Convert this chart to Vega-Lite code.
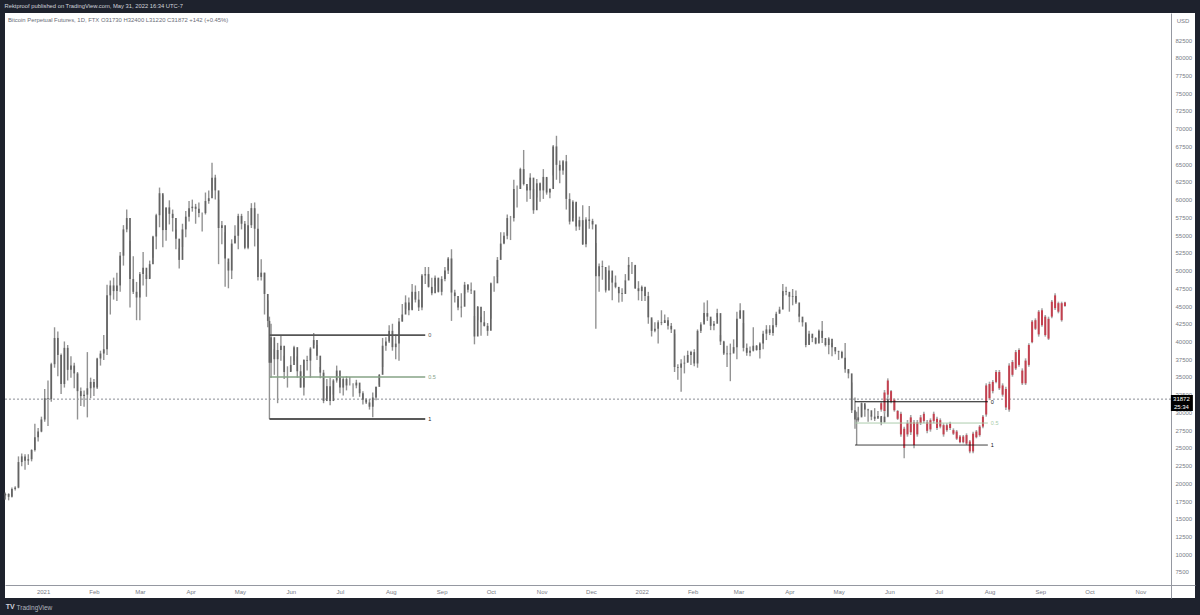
{
"$schema":"https://vega.github.io/schema/vega-lite/v6.json",
"width":1190,"height":585,
"autosize":"none",
"padding":{"left":5,"top":13,"right":5,"bottom":17},
"background":"#1e222d",
"title":{"text":"Rektproof published on TradingView.com, May 31, 2022 16:34 UTC-7","anchor":"start","orient":"top","offset":4,"fontSize":5.8,"fontWeight":"normal","color":"#d1d4dc","font":"Liberation Sans"},
"config":{"view":{"fill":"#ffffff","stroke":null},"font":"Liberation Sans","axis":{"labelOverlap":false}},
"datasets":{
"hist":[
{"d":"2020-12-09","o":18300,"h":18700,"l":17700,"c":18500},
{"d":"2020-12-11","o":18500,"h":18600,"l":17600,"c":18100},
{"d":"2020-12-13","o":18100,"h":19400,"l":18000,"c":19200},
{"d":"2020-12-15","o":19200,"h":19600,"l":19000,"c":19400},
{"d":"2020-12-17","o":19400,"h":23800,"l":19300,"c":23000},
{"d":"2020-12-19","o":23000,"h":24200,"l":22400,"c":23800},
{"d":"2020-12-21","o":23800,"h":24100,"l":21900,"c":23200},
{"d":"2020-12-23","o":23200,"h":24100,"l":22600,"c":23400},
{"d":"2020-12-25","o":23400,"h":24800,"l":23100,"c":24700},
{"d":"2020-12-27","o":24700,"h":28400,"l":24500,"c":26500},
{"d":"2020-12-29","o":26500,"h":27800,"l":25900,"c":27300},
{"d":"2020-12-31","o":27300,"h":29400,"l":27200,"c":29000},
{"d":"2021-01-02","o":29000,"h":33300,"l":28700,"c":32000},
{"d":"2021-01-04","o":32000,"h":34500,"l":28100,"c":31900},
{"d":"2021-01-06","o":31900,"h":37000,"l":31500,"c":36800},
{"d":"2021-01-08","o":36800,"h":42000,"l":36300,"c":40500},
{"d":"2021-01-10","o":40500,"h":41400,"l":35100,"c":38100},
{"d":"2021-01-12","o":38100,"h":38300,"l":32600,"c":34000},
{"d":"2021-01-14","o":34000,"h":40000,"l":33500,"c":39100},
{"d":"2021-01-16","o":39100,"h":39500,"l":34500,"c":36000},
{"d":"2021-01-18","o":36000,"h":37900,"l":34900,"c":36600},
{"d":"2021-01-20","o":36600,"h":37000,"l":33400,"c":35500},
{"d":"2021-01-22","o":35500,"h":35700,"l":29000,"c":33000},
{"d":"2021-01-24","o":33000,"h":33500,"l":30900,"c":32300},
{"d":"2021-01-26","o":32300,"h":33100,"l":30800,"c":32500},
{"d":"2021-01-28","o":32500,"h":38500,"l":29300,"c":33400},
{"d":"2021-01-30","o":33400,"h":34900,"l":32000,"c":34300},
{"d":"2021-02-01","o":34300,"h":34700,"l":32300,"c":33500},
{"d":"2021-02-03","o":33500,"h":37700,"l":33300,"c":37600},
{"d":"2021-02-05","o":37600,"h":38700,"l":36600,"c":38300},
{"d":"2021-02-07","o":38300,"h":40900,"l":37400,"c":38900},
{"d":"2021-02-09","o":38900,"h":48000,"l":38100,"c":46500},
{"d":"2021-02-11","o":46500,"h":48600,"l":43800,"c":47900},
{"d":"2021-02-13","o":47900,"h":49000,"l":45900,"c":47100},
{"d":"2021-02-15","o":47100,"h":49700,"l":45700,"c":47900},
{"d":"2021-02-17","o":47900,"h":52600,"l":47000,"c":52100},
{"d":"2021-02-19","o":52100,"h":56400,"l":50700,"c":55800},
{"d":"2021-02-21","o":55800,"h":58600,"l":55400,"c":57400},
{"d":"2021-02-23","o":57400,"h":54200,"l":44800,"c":48800},
{"d":"2021-02-25","o":48800,"h":52000,"l":46700,"c":47000},
{"d":"2021-02-27","o":47000,"h":48400,"l":43000,"c":46200},
{"d":"2021-03-01","o":46200,"h":49800,"l":43000,"c":49500},
{"d":"2021-03-03","o":49500,"h":52600,"l":47900,"c":50400},
{"d":"2021-03-05","o":50400,"h":49400,"l":46300,"c":48800},
{"d":"2021-03-07","o":48800,"h":51400,"l":48900,"c":50900},
{"d":"2021-03-09","o":50900,"h":54900,"l":51800,"c":54800},
{"d":"2021-03-11","o":54800,"h":58000,"l":53000,"c":57800},
{"d":"2021-03-13","o":57800,"h":61700,"l":56100,"c":60900},
{"d":"2021-03-15","o":60900,"h":60600,"l":53300,"c":55700},
{"d":"2021-03-17","o":55700,"h":58900,"l":54200,"c":58900},
{"d":"2021-03-19","o":58900,"h":59900,"l":56500,"c":58000},
{"d":"2021-03-21","o":58000,"h":58600,"l":55500,"c":57400},
{"d":"2021-03-23","o":57400,"h":55800,"l":53000,"c":54500},
{"d":"2021-03-25","o":54500,"h":53200,"l":50300,"c":51500},
{"d":"2021-03-27","o":51500,"h":56600,"l":53300,"c":55800},
{"d":"2021-03-29","o":55800,"h":58400,"l":54700,"c":57600},
{"d":"2021-03-31","o":57600,"h":59800,"l":56900,"c":58800},
{"d":"2021-04-02","o":58800,"h":60000,"l":58300,"c":59000},
{"d":"2021-04-04","o":59000,"h":59400,"l":56600,"c":58700},
{"d":"2021-04-06","o":58700,"h":59600,"l":57500,"c":58100},
{"d":"2021-04-08","o":58100,"h":58200,"l":55500,"c":58100},
{"d":"2021-04-10","o":58100,"h":61000,"l":57900,"c":59800},
{"d":"2021-04-12","o":59800,"h":61300,"l":59400,"c":60200},
{"d":"2021-04-14","o":60200,"h":65200,"l":61300,"c":63100},
{"d":"2021-04-16","o":63100,"h":63500,"l":60000,"c":61300},
{"d":"2021-04-18","o":61300,"h":60000,"l":50900,"c":56000},
{"d":"2021-04-20","o":56000,"h":57000,"l":53700,"c":56400},
{"d":"2021-04-22","o":56400,"h":55400,"l":47700,"c":51700},
{"d":"2021-04-24","o":51700,"h":51200,"l":47500,"c":50000},
{"d":"2021-04-26","o":50000,"h":54400,"l":48800,"c":53800},
{"d":"2021-04-28","o":53800,"h":56400,"l":53900,"c":54900},
{"d":"2021-04-30","o":54900,"h":58000,"l":53000,"c":57700},
{"d":"2021-05-02","o":57700,"h":58000,"l":55800,"c":56600},
{"d":"2021-05-04","o":56600,"h":57000,"l":53000,"c":53200},
{"d":"2021-05-06","o":53200,"h":58400,"l":53000,"c":56400},
{"d":"2021-05-08","o":56400,"h":59500,"l":56000,"c":58800},
{"d":"2021-05-10","o":58800,"h":59600,"l":53400,"c":55900},
{"d":"2021-05-12","o":55900,"h":58000,"l":48600,"c":49100},
{"d":"2021-05-14","o":49100,"h":51600,"l":48600,"c":49700},
{"d":"2021-05-16","o":49700,"h":49700,"l":43800,"c":46700},
{"d":"2021-05-18","o":46700,"h":45800,"l":42000,"c":42900},
{"d":"2021-05-19","o":42900,"h":43500,"l":29100,"c":37000},
{"d":"2021-05-20","o":37000,"h":42500,"l":34900,"c":40600},
{"d":"2021-05-22","o":40600,"h":38900,"l":35300,"c":37500},
{"d":"2021-05-24","o":37500,"h":39800,"l":31300,"c":38800},
{"d":"2021-05-26","o":38800,"h":40900,"l":37300,"c":39400},
{"d":"2021-05-28","o":39400,"h":38000,"l":34700,"c":35700},
{"d":"2021-05-30","o":35700,"h":36500,"l":33500,"c":35700},
{"d":"2021-06-01","o":35700,"h":37900,"l":35800,"c":36700},
{"d":"2021-06-03","o":36700,"h":39400,"l":37200,"c":39200},
{"d":"2021-06-05","o":39200,"h":37900,"l":34900,"c":35800},
{"d":"2021-06-07","o":35800,"h":36700,"l":33500,"c":33500},
{"d":"2021-06-09","o":33500,"h":37500,"l":32400,"c":37400},
{"d":"2021-06-11","o":37400,"h":38000,"l":35900,"c":37300},
{"d":"2021-06-13","o":37300,"h":39200,"l":34900,"c":39000},
{"d":"2021-06-15","o":39000,"h":41200,"l":39500,"c":40200},
{"d":"2021-06-17","o":40200,"h":39500,"l":37400,"c":38000},
{"d":"2021-06-19","o":38000,"h":36400,"l":34800,"c":35600},
{"d":"2021-06-21","o":35600,"h":36000,"l":31300,"c":31600},
{"d":"2021-06-23","o":31600,"h":34700,"l":31900,"c":33700},
{"d":"2021-06-25","o":33700,"h":34900,"l":31000,"c":31600},
{"d":"2021-06-27","o":31600,"h":34700,"l":32500,"c":34500},
{"d":"2021-06-29","o":34500,"h":36600,"l":34200,"c":35900},
{"d":"2021-07-01","o":35900,"h":35000,"l":32700,"c":33500},
{"d":"2021-07-03","o":33500,"h":35000,"l":32400,"c":34700},
{"d":"2021-07-05","o":34700,"h":35100,"l":33100,"c":33800},
{"d":"2021-07-07","o":33800,"h":35000,"l":33800,"c":33800},
{"d":"2021-07-09","o":33800,"h":34100,"l":32200,"c":33800},
{"d":"2021-07-11","o":33800,"h":34600,"l":33400,"c":34200},
{"d":"2021-07-13","o":34200,"h":33300,"l":32200,"c":32700},
{"d":"2021-07-15","o":32700,"h":33000,"l":31100,"c":31800},
{"d":"2021-07-17","o":31800,"h":32000,"l":31200,"c":31400},
{"d":"2021-07-19","o":31400,"h":31900,"l":30400,"c":30800},
{"d":"2021-07-21","o":30800,"h":32800,"l":29300,"c":32100},
{"d":"2021-07-23","o":32100,"h":33600,"l":31700,"c":33600},
{"d":"2021-07-25","o":33600,"h":35400,"l":33900,"c":35300},
{"d":"2021-07-27","o":35300,"h":40500,"l":36400,"c":39400},
{"d":"2021-07-29","o":39400,"h":40600,"l":38700,"c":40000},
{"d":"2021-07-31","o":40000,"h":42300,"l":39800,"c":41500},
{"d":"2021-08-02","o":41500,"h":42500,"l":38700,"c":39200},
{"d":"2021-08-04","o":39200,"h":41000,"l":37500,"c":39700},
{"d":"2021-08-06","o":39700,"h":43300,"l":37300,"c":42800},
{"d":"2021-08-08","o":42800,"h":45300,"l":42800,"c":43800},
{"d":"2021-08-10","o":43800,"h":46500,"l":44600,"c":45500},
{"d":"2021-08-12","o":45500,"h":46200,"l":43700,"c":44400},
{"d":"2021-08-14","o":44400,"h":48100,"l":44600,"c":47000},
{"d":"2021-08-16","o":47000,"h":47900,"l":45500,"c":45900},
{"d":"2021-08-18","o":45900,"h":47100,"l":44300,"c":44800},
{"d":"2021-08-20","o":44800,"h":49500,"l":44400,"c":49300},
{"d":"2021-08-22","o":49300,"h":50500,"l":48100,"c":49500},
{"d":"2021-08-24","o":49500,"h":50500,"l":47600,"c":47700},
{"d":"2021-08-26","o":47700,"h":49000,"l":46500,"c":46800},
{"d":"2021-08-28","o":46800,"h":49300,"l":47800,"c":49000},
{"d":"2021-08-30","o":49000,"h":48900,"l":46900,"c":47000},
{"d":"2021-09-01","o":47000,"h":49200,"l":46500,"c":48800},
{"d":"2021-09-03","o":48800,"h":50500,"l":48500,"c":50000},
{"d":"2021-09-05","o":50000,"h":51900,"l":49500,"c":51700},
{"d":"2021-09-07","o":51700,"h":53000,"l":42900,"c":46900},
{"d":"2021-09-09","o":46900,"h":47300,"l":45500,"c":46400},
{"d":"2021-09-11","o":46400,"h":46000,"l":44400,"c":44800},
{"d":"2021-09-13","o":44800,"h":46800,"l":43400,"c":44900},
{"d":"2021-09-15","o":44900,"h":48400,"l":46700,"c":48000},
{"d":"2021-09-17","o":48000,"h":48100,"l":46900,"c":47300},
{"d":"2021-09-19","o":47300,"h":48300,"l":46700,"c":47200},
{"d":"2021-09-21","o":47200,"h":43600,"l":39600,"c":40700},
{"d":"2021-09-23","o":40700,"h":45000,"l":43000,"c":44900},
{"d":"2021-09-25","o":44900,"h":43500,"l":40800,"c":42700},
{"d":"2021-09-27","o":42700,"h":44300,"l":42100,"c":42200},
{"d":"2021-09-29","o":42200,"h":42600,"l":40800,"c":41500},
{"d":"2021-10-01","o":41500,"h":48300,"l":43200,"c":48200},
{"d":"2021-10-03","o":48200,"h":49200,"l":47000,"c":48200},
{"d":"2021-10-05","o":48200,"h":51900,"l":49100,"c":51500},
{"d":"2021-10-07","o":51500,"h":55400,"l":52900,"c":53800},
{"d":"2021-10-09","o":53800,"h":55400,"l":53700,"c":54900},
{"d":"2021-10-11","o":54900,"h":57900,"l":54400,"c":57400},
{"d":"2021-10-13","o":57400,"h":57700,"l":54300,"c":57400},
{"d":"2021-10-15","o":57400,"h":62800,"l":56900,"c":61500},
{"d":"2021-10-17","o":61500,"h":62000,"l":58900,"c":61500},
{"d":"2021-10-19","o":61500,"h":64500,"l":61500,"c":64300},
{"d":"2021-10-21","o":64300,"h":67000,"l":62000,"c":62200},
{"d":"2021-10-23","o":62200,"h":61800,"l":59700,"c":61300},
{"d":"2021-10-25","o":61300,"h":63700,"l":60100,"c":63100},
{"d":"2021-10-27","o":63100,"h":61500,"l":58000,"c":58500},
{"d":"2021-10-29","o":58500,"h":62900,"l":60300,"c":62300},
{"d":"2021-10-31","o":62300,"h":62400,"l":59700,"c":61300},
{"d":"2021-11-02","o":61300,"h":64300,"l":60100,"c":63200},
{"d":"2021-11-04","o":63200,"h":63100,"l":60700,"c":61000},
{"d":"2021-11-06","o":61000,"h":61600,"l":60200,"c":61500},
{"d":"2021-11-08","o":61500,"h":67700,"l":63400,"c":67500},
{"d":"2021-11-10","o":67500,"h":69000,"l":62800,"c":64900},
{"d":"2021-11-12","o":64900,"h":65500,"l":62300,"c":64100},
{"d":"2021-11-14","o":64100,"h":65600,"l":63500,"c":65400},
{"d":"2021-11-16","o":65400,"h":66300,"l":58600,"c":60100},
{"d":"2021-11-18","o":60100,"h":60900,"l":56500,"c":56900},
{"d":"2021-11-20","o":56900,"h":59900,"l":57400,"c":59700},
{"d":"2021-11-22","o":59700,"h":59500,"l":55600,"c":56200},
{"d":"2021-11-24","o":56200,"h":57600,"l":55700,"c":57100},
{"d":"2021-11-26","o":57100,"h":59200,"l":53600,"c":53700},
{"d":"2021-11-28","o":53700,"h":57500,"l":53300,"c":57200},
{"d":"2021-11-30","o":57200,"h":59100,"l":55900,"c":57000},
{"d":"2021-12-02","o":57000,"h":57300,"l":55800,"c":56500},
{"d":"2021-12-04","o":56500,"h":53900,"l":41800,"c":49200},
{"d":"2021-12-06","o":49200,"h":51000,"l":47000,"c":50600},
{"d":"2021-12-08","o":50600,"h":51400,"l":48700,"c":50500},
{"d":"2021-12-10","o":50500,"h":50100,"l":46900,"c":47200},
{"d":"2021-12-12","o":47200,"h":50700,"l":48700,"c":50000},
{"d":"2021-12-14","o":50000,"h":49000,"l":45800,"c":48300},
{"d":"2021-12-16","o":48300,"h":49300,"l":47500,"c":47700},
{"d":"2021-12-18","o":47700,"h":47300,"l":45500,"c":46800},
{"d":"2021-12-20","o":46800,"h":47500,"l":45600,"c":46700},
{"d":"2021-12-22","o":46700,"h":49500,"l":48500,"c":48600},
{"d":"2021-12-24","o":48600,"h":51900,"l":50500,"c":50800},
{"d":"2021-12-26","o":50800,"h":51200,"l":49500,"c":50800},
{"d":"2021-12-28","o":50800,"h":50700,"l":47400,"c":47500},
{"d":"2021-12-30","o":47500,"h":48500,"l":45800,"c":47100},
{"d":"2022-01-01","o":47100,"h":47900,"l":45700,"c":47700},
{"d":"2022-01-03","o":47700,"h":47500,"l":45700,"c":46400},
{"d":"2022-01-05","o":46400,"h":47000,"l":42500,"c":43400},
{"d":"2022-01-07","o":43400,"h":43100,"l":40700,"c":41500},
{"d":"2022-01-09","o":41500,"h":42700,"l":41300,"c":41800},
{"d":"2022-01-11","o":41800,"h":43000,"l":39700,"c":42700},
{"d":"2022-01-13","o":42700,"h":44400,"l":42300,"c":42600},
{"d":"2022-01-15","o":42600,"h":43800,"l":42600,"c":43000},
{"d":"2022-01-17","o":43000,"h":43400,"l":41700,"c":42200},
{"d":"2022-01-19","o":42200,"h":42600,"l":41200,"c":41700},
{"d":"2022-01-21","o":41700,"h":41100,"l":35700,"c":36400},
{"d":"2022-01-23","o":36400,"h":36800,"l":34600,"c":36300},
{"d":"2022-01-25","o":36300,"h":37500,"l":32900,"c":36900},
{"d":"2022-01-27","o":36900,"h":38000,"l":35500,"c":37000},
{"d":"2022-01-29","o":37000,"h":38700,"l":37100,"c":38100},
{"d":"2022-01-31","o":38100,"h":38700,"l":36700,"c":38500},
{"d":"2022-02-02","o":38500,"h":38900,"l":36500,"c":36900},
{"d":"2022-02-04","o":36900,"h":41700,"l":36300,"c":41500},
{"d":"2022-02-06","o":41500,"h":42700,"l":41200,"c":42400},
{"d":"2022-02-08","o":42400,"h":45500,"l":42700,"c":44000},
{"d":"2022-02-10","o":44000,"h":45800,"l":42900,"c":43500},
{"d":"2022-02-12","o":43500,"h":43200,"l":41600,"c":42200},
{"d":"2022-02-14","o":42200,"h":42900,"l":41600,"c":42500},
{"d":"2022-02-16","o":42500,"h":44600,"l":43400,"c":44000},
{"d":"2022-02-18","o":44000,"h":40900,"l":39500,"c":40000},
{"d":"2022-02-20","o":40000,"h":40100,"l":38100,"c":38300},
{"d":"2022-02-22","o":38300,"h":39400,"l":36400,"c":38200},
{"d":"2022-02-24","o":38200,"h":39700,"l":34400,"c":38300},
{"d":"2022-02-26","o":38300,"h":40300,"l":38600,"c":39200},
{"d":"2022-02-28","o":39200,"h":44200,"l":37500,"c":43200},
{"d":"2022-03-02","o":43200,"h":45400,"l":43300,"c":44400},
{"d":"2022-03-04","o":44400,"h":42600,"l":38600,"c":39100},
{"d":"2022-03-06","o":39100,"h":39700,"l":38000,"c":38400},
{"d":"2022-03-08","o":38400,"h":39300,"l":37900,"c":38700},
{"d":"2022-03-10","o":38700,"h":42000,"l":38600,"c":39400},
{"d":"2022-03-12","o":39400,"h":39500,"l":38700,"c":38800},
{"d":"2022-03-14","o":38800,"h":39900,"l":37600,"c":39700},
{"d":"2022-03-16","o":39700,"h":41500,"l":38900,"c":41100},
{"d":"2022-03-18","o":41100,"h":42300,"l":40200,"c":41700},
{"d":"2022-03-20","o":41700,"h":42300,"l":40900,"c":41200},
{"d":"2022-03-22","o":41200,"h":43300,"l":40800,"c":42300},
{"d":"2022-03-24","o":42300,"h":44200,"l":42000,"c":43900},
{"d":"2022-03-26","o":43900,"h":44900,"l":44100,"c":44500},
{"d":"2022-03-28","o":44500,"h":48100,"l":46400,"c":47100},
{"d":"2022-03-30","o":47100,"h":47700,"l":46500,"c":47000},
{"d":"2022-04-01","o":47000,"h":46600,"l":44200,"c":46300},
{"d":"2022-04-03","o":46300,"h":47400,"l":45100,"c":46400},
{"d":"2022-04-05","o":46400,"h":47200,"l":45300,"c":45500},
{"d":"2022-04-07","o":45500,"h":43900,"l":42700,"c":43500},
{"d":"2022-04-09","o":43500,"h":43000,"l":42100,"c":42700},
{"d":"2022-04-11","o":42700,"h":42400,"l":39200,"c":39500},
{"d":"2022-04-13","o":39500,"h":41500,"l":39600,"c":41100},
{"d":"2022-04-15","o":41100,"h":40800,"l":39900,"c":40500},
{"d":"2022-04-17","o":40500,"h":40600,"l":39600,"c":39700},
{"d":"2022-04-19","o":39700,"h":41700,"l":40500,"c":41500},
{"d":"2022-04-21","o":41500,"h":42900,"l":39800,"c":40500},
{"d":"2022-04-23","o":40500,"h":39900,"l":39300,"c":39500},
{"d":"2022-04-25","o":39500,"h":40600,"l":38200,"c":40400},
{"d":"2022-04-27","o":40400,"h":39800,"l":37900,"c":39200},
{"d":"2022-04-29","o":39200,"h":39200,"l":38200,"c":38600},
{"d":"2022-05-01","o":38600,"h":38700,"l":37400,"c":38500},
{"d":"2022-05-03","o":38500,"h":38700,"l":37600,"c":37700},
{"d":"2022-05-05","o":37700,"h":39800,"l":35600,"c":36100},
{"d":"2022-05-07","o":36100,"h":36100,"l":34800,"c":35500},
{"d":"2022-05-09","o":35500,"h":34200,"l":29900,"c":30300},
{"d":"2022-05-11","o":30300,"h":32100,"l":27700,"c":29000},
{"d":"2022-05-12","o":29000,"h":30100,"l":25400,"c":28900},
{"d":"2022-05-13","o":28900,"h":30800,"l":28700,"c":29300},
{"d":"2022-05-15","o":29300,"h":31400,"l":29500,"c":31300},
{"d":"2022-05-17","o":31300,"h":31000,"l":29400,"c":30400},
{"d":"2022-05-19","o":30400,"h":30500,"l":28700,"c":30300},
{"d":"2022-05-21","o":30300,"h":29600,"l":28900,"c":29400},
{"d":"2022-05-23","o":29400,"h":30600,"l":28800,"c":29100},
{"d":"2022-05-25","o":29100,"h":30200,"l":29300,"c":29500},
{"d":"2022-05-27","o":29500,"h":29300,"l":28200,"c":28600},
{"d":"2022-05-29","o":28600,"h":30400,"l":28600,"c":29400},
{"d":"2022-05-31","o":29400,"h":32400,"l":29300,"c":31872}
],
"proj":[
{"d":"2022-05-27","o":30400,"h":31512,"l":30102,"c":31300},
{"d":"2022-05-29","o":30200,"h":33157,"l":29867,"c":32800},
{"d":"2022-05-31","o":32500,"h":34802,"l":32217,"c":34500},
{"d":"2022-06-02","o":33000,"h":33157,"l":31277,"c":31500},
{"d":"2022-06-04","o":31800,"h":31982,"l":30102,"c":30300},
{"d":"2022-06-06","o":30200,"h":30337,"l":28927,"c":29100},
{"d":"2022-06-08","o":29800,"h":30102,"l":26577,"c":26900},
{"d":"2022-06-10","o":27700,"h":27987,"l":23522,"c":25000},
{"d":"2022-06-12","o":26900,"h":28927,"l":26577,"c":28500},
{"d":"2022-06-14","o":29300,"h":29632,"l":26812,"c":27200},
{"d":"2022-06-16","o":28600,"h":28927,"l":24932,"c":25400},
{"d":"2022-06-18","o":26900,"h":28927,"l":26577,"c":28600},
{"d":"2022-06-20","o":28500,"h":29632,"l":28222,"c":29300},
{"d":"2022-06-22","o":29800,"h":30102,"l":28457,"c":28800},
{"d":"2022-06-24","o":28600,"h":28927,"l":27047,"c":27400},
{"d":"2022-06-26","o":27600,"h":29162,"l":27282,"c":28900},
{"d":"2022-06-28","o":29800,"h":30102,"l":28457,"c":28800},
{"d":"2022-06-30","o":29100,"h":29397,"l":27517,"c":27800},
{"d":"2022-07-02","o":28900,"h":29162,"l":27752,"c":28000},
{"d":"2022-07-04","o":28200,"h":28457,"l":26577,"c":26900},
{"d":"2022-07-06","o":27500,"h":28457,"l":27282,"c":28200},
{"d":"2022-07-08","o":27800,"h":28692,"l":27517,"c":28400},
{"d":"2022-07-10","o":27500,"h":27752,"l":26812,"c":27000},
{"d":"2022-07-12","o":27300,"h":27517,"l":26107,"c":26300},
{"d":"2022-07-14","o":26600,"h":26812,"l":25637,"c":25800},
{"d":"2022-07-16","o":25800,"h":26812,"l":25637,"c":26600},
{"d":"2022-07-18","o":26800,"h":27047,"l":25402,"c":25600},
{"d":"2022-07-20","o":25900,"h":26107,"l":24227,"c":24500},
{"d":"2022-07-22","o":24500,"h":27282,"l":24227,"c":27000},
{"d":"2022-07-24","o":26500,"h":27517,"l":26342,"c":27300},
{"d":"2022-07-26","o":26800,"h":28222,"l":26577,"c":28000},
{"d":"2022-07-28","o":28000,"h":29632,"l":27752,"c":29400},
{"d":"2022-07-30","o":29700,"h":34097,"l":29397,"c":33800},
{"d":"2022-08-01","o":32000,"h":34332,"l":31747,"c":34000},
{"d":"2022-08-03","o":33000,"h":34567,"l":32687,"c":34300},
{"d":"2022-08-05","o":34300,"h":35977,"l":34097,"c":35700},
{"d":"2022-08-07","o":35700,"h":35977,"l":33157,"c":33400},
{"d":"2022-08-09","o":33800,"h":34097,"l":32217,"c":32500},
{"d":"2022-08-11","o":33300,"h":33627,"l":30337,"c":30700},
{"d":"2022-08-13","o":30400,"h":36917,"l":30102,"c":36600},
{"d":"2022-08-15","o":35300,"h":37387,"l":35037,"c":37100},
{"d":"2022-08-17","o":36200,"h":38797,"l":35977,"c":38500},
{"d":"2022-08-19","o":38800,"h":39032,"l":36447,"c":36700},
{"d":"2022-08-21","o":35900,"h":36212,"l":33862,"c":34100},
{"d":"2022-08-23","o":34100,"h":37622,"l":33862,"c":37300},
{"d":"2022-08-25","o":36700,"h":39737,"l":36447,"c":39500},
{"d":"2022-08-27","o":39900,"h":43027,"l":39737,"c":42800},
{"d":"2022-08-29","o":41800,"h":43262,"l":41617,"c":43000},
{"d":"2022-08-31","o":44200,"h":44437,"l":40677,"c":41000},
{"d":"2022-09-02","o":42300,"h":44672,"l":42087,"c":44400},
{"d":"2022-09-04","o":43500,"h":43732,"l":40677,"c":40900},
{"d":"2022-09-06","o":40400,"h":43497,"l":40207,"c":43200},
{"d":"2022-09-08","o":43500,"h":45847,"l":43262,"c":45600},
{"d":"2022-09-10","o":46500,"h":46787,"l":44437,"c":44700},
{"d":"2022-09-12","o":45400,"h":45612,"l":43967,"c":44200},
{"d":"2022-09-14","o":45400,"h":45612,"l":42792,"c":43000},
{"d":"2022-09-16","o":45000,"h":45612,"l":44907,"c":45500}
],
"levels":[
{"start":"2021-05-19","end":"2021-08-22","price":40900,"line":"first 0","label":"0"},
{"start":"2021-05-19","end":"2021-08-22","price":35000,"line":"first 0.5","label":"0.5"},
{"start":"2021-05-19","end":"2021-08-22","price":29070,"line":"first 1","label":"1"},
{"start":"2022-05-11","end":"2022-07-31","price":31510,"line":"second 0","label":"0"},
{"start":"2022-05-11","end":"2022-07-31","price":28500,"line":"second 0.5","label":"0.5"},
{"start":"2022-05-11","end":"2022-07-31","price":25400,"line":"second 1","label":"1"}
],
"last":[{"start":"2020-12-08T19:00:00Z","end":"2022-11-19T14:00:00Z","price":31872}],
"box":[{"start":"2022-11-19T14:00:00Z","end":"2022-12-03T00:00:00Z","top":32454,"bottom":30200}],
"boxText":[
{"d":"2022-11-26","price":31900,"t":"31872"},
{"d":"2022-11-26","price":30800,"t":"25:34"}
]
},
"layer":[
{"data":{"name":"last"},"mark":{"type":"rule","stroke":"#8a8d94","strokeWidth":1,"strokeDash":[2,2]},
 "encoding":{"x":{"field":"start","type":"temporal","scale":{"type":"utc","domain":["2020-12-08T19:00:00Z","2022-12-04T07:00:00Z"]},
   "axis":{"title":"TradingView","titleAnchor":"start","titleAlign":"left","titleBaseline":"middle","titleX":11,"titleY":22,"titleFontSize":6.5,"titleFontWeight":"normal","titleColor":"#b2b5be","orient":"bottom","offset":-13,"domainColor":"#9598a1","domainWidth":1,"ticks":false,"grid":false,"labelFontSize":6,"labelColor":"#787b86","labelPadding":3,"tickCount":{"interval":"month","step":1},"labelOverlap":false,"labelFlush":false,"labelExpr":"utcyear(datum.value)==2022&&utcmonth(datum.value)==11?'':utcmonth(datum.value)==0?utcFormat(datum.value,'%Y'):utcFormat(datum.value,'%b')"}},
  "x2":{"field":"end"},
  "y":{"field":"price","type":"quantitative","scale":{"domain":[3834,86310],"nice":false,"zero":false},
   "axis":{"title":null,"orient":"right","offset":-24,"domainColor":"#9598a1","domainWidth":1,"ticks":false,"grid":false,"labelFontSize":6,"labelColor":"#787b86","labelPadding":4,"labelOverlap":false,"labelFlush":false,"format":"d","tickCount":40,"values":[7500,10000,12500,15000,17500,20000,22500,25000,27500,30000,32500,35000,37500,40000,42500,45000,47500,50000,52500,55000,57500,60000,62500,65000,67500,70000,72500,75000,77500,80000,82500]}}}},
{"data":{"name":"hist"},"mark":{"type":"rule","stroke":"#929292","strokeWidth":1.4},
 "encoding":{"x":{"field":"d","type":"temporal"},"y":{"field":"l","type":"quantitative"},"y2":{"field":"h"}}},
{"data":{"name":"hist"},"mark":{"type":"rule","stroke":"#636363","strokeWidth":1.7},
 "encoding":{"x":{"field":"d","type":"temporal"},"y":{"field":"o","type":"quantitative"},"y2":{"field":"c"}}},
{"data":{"name":"proj"},"mark":{"type":"rule","stroke":"#a8a8a8","strokeWidth":1.6},
 "encoding":{"x":{"field":"d","type":"temporal"},"y":{"field":"l","type":"quantitative"},"y2":{"field":"h"}}},
{"data":{"name":"proj"},"mark":{"type":"rule","stroke":"#c4404f","strokeWidth":2},
 "encoding":{"x":{"field":"d","type":"temporal"},"y":{"field":"o","type":"quantitative"},"y2":{"field":"c"}}},
{"data":{"name":"levels"},"mark":{"type":"rule"},
 "encoding":{"x":{"field":"start","type":"temporal"},"x2":{"field":"end"},"y":{"field":"price","type":"quantitative"},
  "color":{"field":"line","type":"nominal","legend":null,"scale":{"domain":["first 0","first 0.5","first 1","second 0","second 0.5","second 1"],"range":["#555555","#86a386","#222222","#111111","#a9cba9","#111111"]}},
  "strokeWidth":{"field":"line","type":"nominal","legend":null,"scale":{"domain":["first 0","first 0.5","first 1","second 0","second 0.5","second 1"],"range":[1.6,0.8,1.6,1.6,1.8,1.6]}}}},
{"data":{"name":"levels"},"mark":{"type":"text","align":"left","baseline":"middle","dx":3,"fontSize":5.5},
 "encoding":{"x":{"field":"end","type":"temporal"},"y":{"field":"price","type":"quantitative"},"text":{"field":"label"},
  "color":{"field":"line","type":"nominal","legend":null}}},
{"data":{"name":"box"},"mark":{"type":"rect","fill":"#000000"},
 "encoding":{"x":{"field":"start","type":"temporal"},"x2":{"field":"end"},"y":{"field":"top","type":"quantitative"},"y2":{"field":"bottom"}}},
{"data":{"name":"boxText"},"mark":{"type":"text","align":"center","baseline":"middle","fontSize":6,"color":"#ffffff"},
 "encoding":{"x":{"field":"d","type":"temporal"},"y":{"field":"price","type":"quantitative"},"text":{"field":"t"}}},
{"data":{"values":[{"d":"2020-12-10T14:00:00Z","price":85323,"t":"Bitcoin Perpetual Futures, 1D, FTX  O31730  H32400  L31220  C31872  +142 (+0.45%)"}]},"mark":{"type":"text","align":"left","baseline":"middle","fontSize":5.9,"color":"#6a6d78"},
 "encoding":{"x":{"field":"d","type":"temporal"},"y":{"field":"price","type":"quantitative"},"text":{"field":"t"}}},
{"data":{"values":[{"d":"2022-11-27","price":85180,"t":"USD"}]},"mark":{"type":"text","align":"center","baseline":"middle","fontSize":6,"color":"#787b86"},
 "encoding":{"x":{"field":"d","type":"temporal"},"y":{"field":"price","type":"quantitative"},"text":{"field":"t"}}},
{"data":{"values":[{"d":"2020-12-12","price":2566,"t":"TV"}]},"mark":{"type":"text","align":"center","baseline":"middle","fontSize":7,"fontWeight":"bold","color":"#d1d4dc"},
 "encoding":{"x":{"field":"d","type":"temporal"},"y":{"field":"price","type":"quantitative"},"text":{"field":"t"}}}
]
}
